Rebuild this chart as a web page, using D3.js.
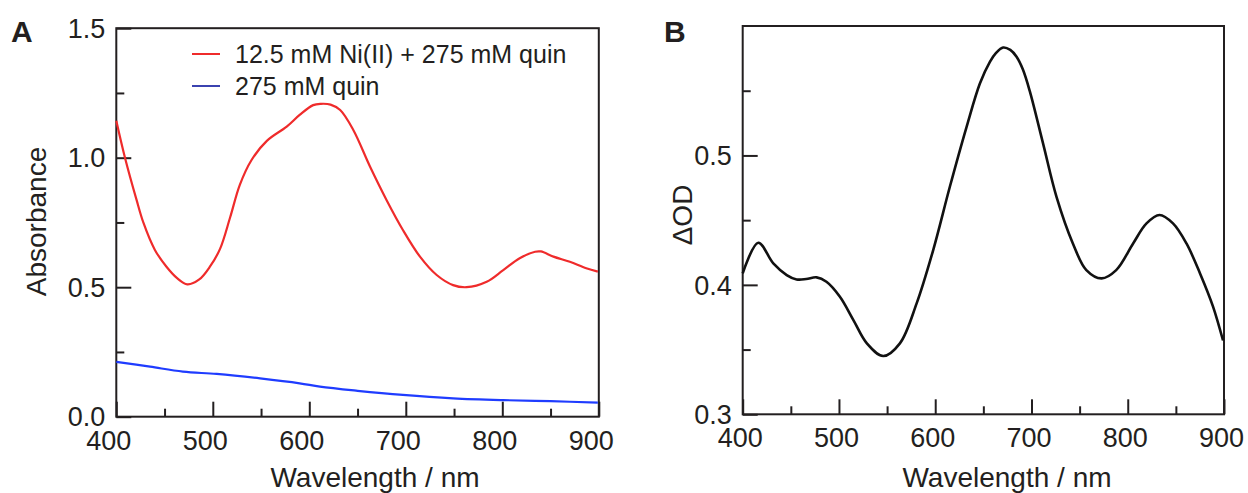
<!DOCTYPE html>
<html><head><meta charset="utf-8">
<script src="https://cdn.jsdelivr.net/npm/d3@7"></script>
<style>
html,body{margin:0;padding:0;background:#fff;}
svg text{font-family:"Liberation Sans",Arial,Helvetica,sans-serif;fill:#231f20;}
</style></head>
<body><svg id="c" width="1248" height="493"></svg>
<script>
// Panel A: Ni(II)+quin absorbance
const redWl  = [400,409,421,428,440,452,463,473.6,486,497,507.5,518,528,540,556,576.6,590,604,612,622,632,645.6,663,680,697,714.7,732,749,763,783.8,801,818,834,840,853,870,887,899];
const redAbs = [1.143,1.0,0.837,0.75,0.644,0.579,0.535,0.511,0.53,0.579,0.648,0.77,0.895,0.99,1.065,1.12,1.165,1.203,1.208,1.205,1.184,1.107,0.965,0.837,0.721,0.618,0.547,0.508,0.5,0.521,0.566,0.612,0.637,0.638,0.618,0.598,0.573,0.56];
const blueWl  = [400,435,469,504,549,590,611,650,697,749,801,850,899];
const blueAbs = [0.212,0.193,0.174,0.165,0.148,0.129,0.116,0.100,0.084,0.071,0.064,0.060,0.054];
// Panel B: difference spectrum
const bWl = [400,416.2,431.8,445.7,456,466,476.8,487,501,515,529,546,563.3,580.7,597.9,615.2,632.6,646.4,656.8,663,670.6,678,684.5,691,698.3,712,726,743,757,772.8,788,805.6,819.5,833,847,861,875,888.7,899];
const bOD = [0.4089,0.4325,0.4166,0.4076,0.4042,0.4045,0.4058,0.4024,0.3908,0.3728,0.3548,0.345,0.3548,0.3857,0.4269,0.4758,0.5221,0.5556,0.5723,0.579,0.5834,0.5815,0.5762,0.5665,0.5495,0.5093,0.468,0.432,0.4114,0.405,0.4114,0.432,0.4475,0.454,0.4475,0.432,0.409,0.383,0.357];
const xTicks = [400,500,600,700,800,900];
const xMinor = [450,550,650,750,850];
const aTicks = [0.0,0.5,1.0,1.5];
const aMinor = [0.25,0.75,1.25];
const bTicks = [0.3,0.4,0.5];
const bMinor = [0.35,0.45,0.55];
const legendLabels = ["12.5 mM Ni(II) + 275 mM quin","275 mM quin"];

const svg = d3.select("#c");
const ink = "#231f20";

function panel(o){
  const g = svg.append("g");
  const x = d3.scaleLinear().domain([400,900]).range([o.l,o.r]);
  const y = d3.scaleLinear().domain(o.yd).range([o.b,o.t]);
  g.append("rect").attr("x",o.l).attr("y",o.t).attr("width",o.r-o.l).attr("height",o.b-o.t)
    .attr("fill","none").attr("stroke",ink).attr("stroke-width",2);
  const xa = g.append("g").attr("transform",`translate(0,${o.b})`)
    .call(d3.axisTop(x).tickValues(xTicks).tickSize(15).tickFormat(""));
  xa.select(".domain").remove();
  xa.selectAll("line").attr("stroke",ink).attr("stroke-width",2);
  const xm = g.append("g").attr("transform",`translate(0,${o.b})`)
    .call(d3.axisTop(x).tickValues(xMinor).tickSize(8).tickFormat(""));
  xm.select(".domain").remove();
  xm.selectAll("line").attr("stroke",ink).attr("stroke-width",2);
  g.selectAll(".xl").data(xTicks).enter().append("text")
    .attr("x",d=>x(d)+o.xdx).attr("y",o.b+o.xly).attr("text-anchor","middle")
    .attr("font-size",27).text(d=>d);
  const ya = g.append("g").attr("transform",`translate(${o.l},0)`)
    .call(d3.axisRight(y).tickValues(o.yt).tickSize(15).tickFormat(""));
  ya.select(".domain").remove();
  ya.selectAll("line").attr("stroke",ink).attr("stroke-width",2);
  const ym = g.append("g").attr("transform",`translate(${o.l},0)`)
    .call(d3.axisRight(y).tickValues(o.ym).tickSize(8).tickFormat(""));
  ym.select(".domain").remove();
  ym.selectAll("line").attr("stroke",ink).attr("stroke-width",2);
  g.selectAll(".yl").data(o.yt).enter().append("text")
    .attr("x",o.l-11).attr("y",d=>y(d)+9.7).attr("text-anchor","end")
    .attr("font-size",27).text(d=>d.toFixed(1));
  g.append("text").attr("x",o.xtx).attr("y",487).attr("text-anchor","middle")
    .attr("font-size",28).text("Wavelength / nm");
  g.append("text").attr("transform",`translate(${o.ytx},${o.yty}) rotate(-90)`)
    .attr("text-anchor","middle").attr("font-size",28).text(o.ytitle);
  g.append("text").attr("x",o.px).attr("y",42).attr("font-size",30).attr("font-weight","bold").text(o.plabel);
  return {g,x,y};
}

const A = panel({l:116.3,r:598.8,t:28.2,b:416.7,yd:[0,1.5],yt:aTicks,ym:aMinor,xdx:-7.5,xly:33.3,xtx:375,ytx:46,yty:221.5,ytitle:"Absorbance",px:11,plabel:"A"});
const line = d3.line().curve(d3.curveCatmullRom.alpha(0.5));
A.g.append("path").attr("d",line(redWl.map((w,i)=>[A.x(w),A.y(redAbs[i])])))
  .attr("fill","none").attr("stroke","#ef2b2b").attr("stroke-width",2.2);
A.g.append("path").attr("d",line(blueWl.map((w,i)=>[A.x(w),A.y(blueAbs[i])])))
  .attr("fill","none").attr("stroke","#1f3cff").attr("stroke-width",2.2);
const legColors = ["#ef2b2b","#3b43b0"];
legendLabels.forEach((t,i)=>{
  const yy = 54 + i*32;
  A.g.append("line").attr("x1",192).attr("x2",220).attr("y1",yy).attr("y2",yy)
    .attr("stroke",legColors[i]).attr("stroke-width",2);
  A.g.append("text").attr("x",235).attr("y",yy+8.5).attr("font-size",25).text(t);
});

const B = panel({l:742.7,r:1224,t:26,b:414.3,yd:[0.3,0.6],yt:bTicks,ym:bMinor,xdx:-2.5,xly:32.4,xtx:1007,ytx:692,yty:215,ytitle:"ΔOD",px:664,plabel:"B"});
B.g.append("path").attr("d",line(bWl.map((w,i)=>[B.x(w),B.y(bOD[i])])))
  .attr("fill","none").attr("stroke","#111").attr("stroke-width",2.6);
</script></body></html>
